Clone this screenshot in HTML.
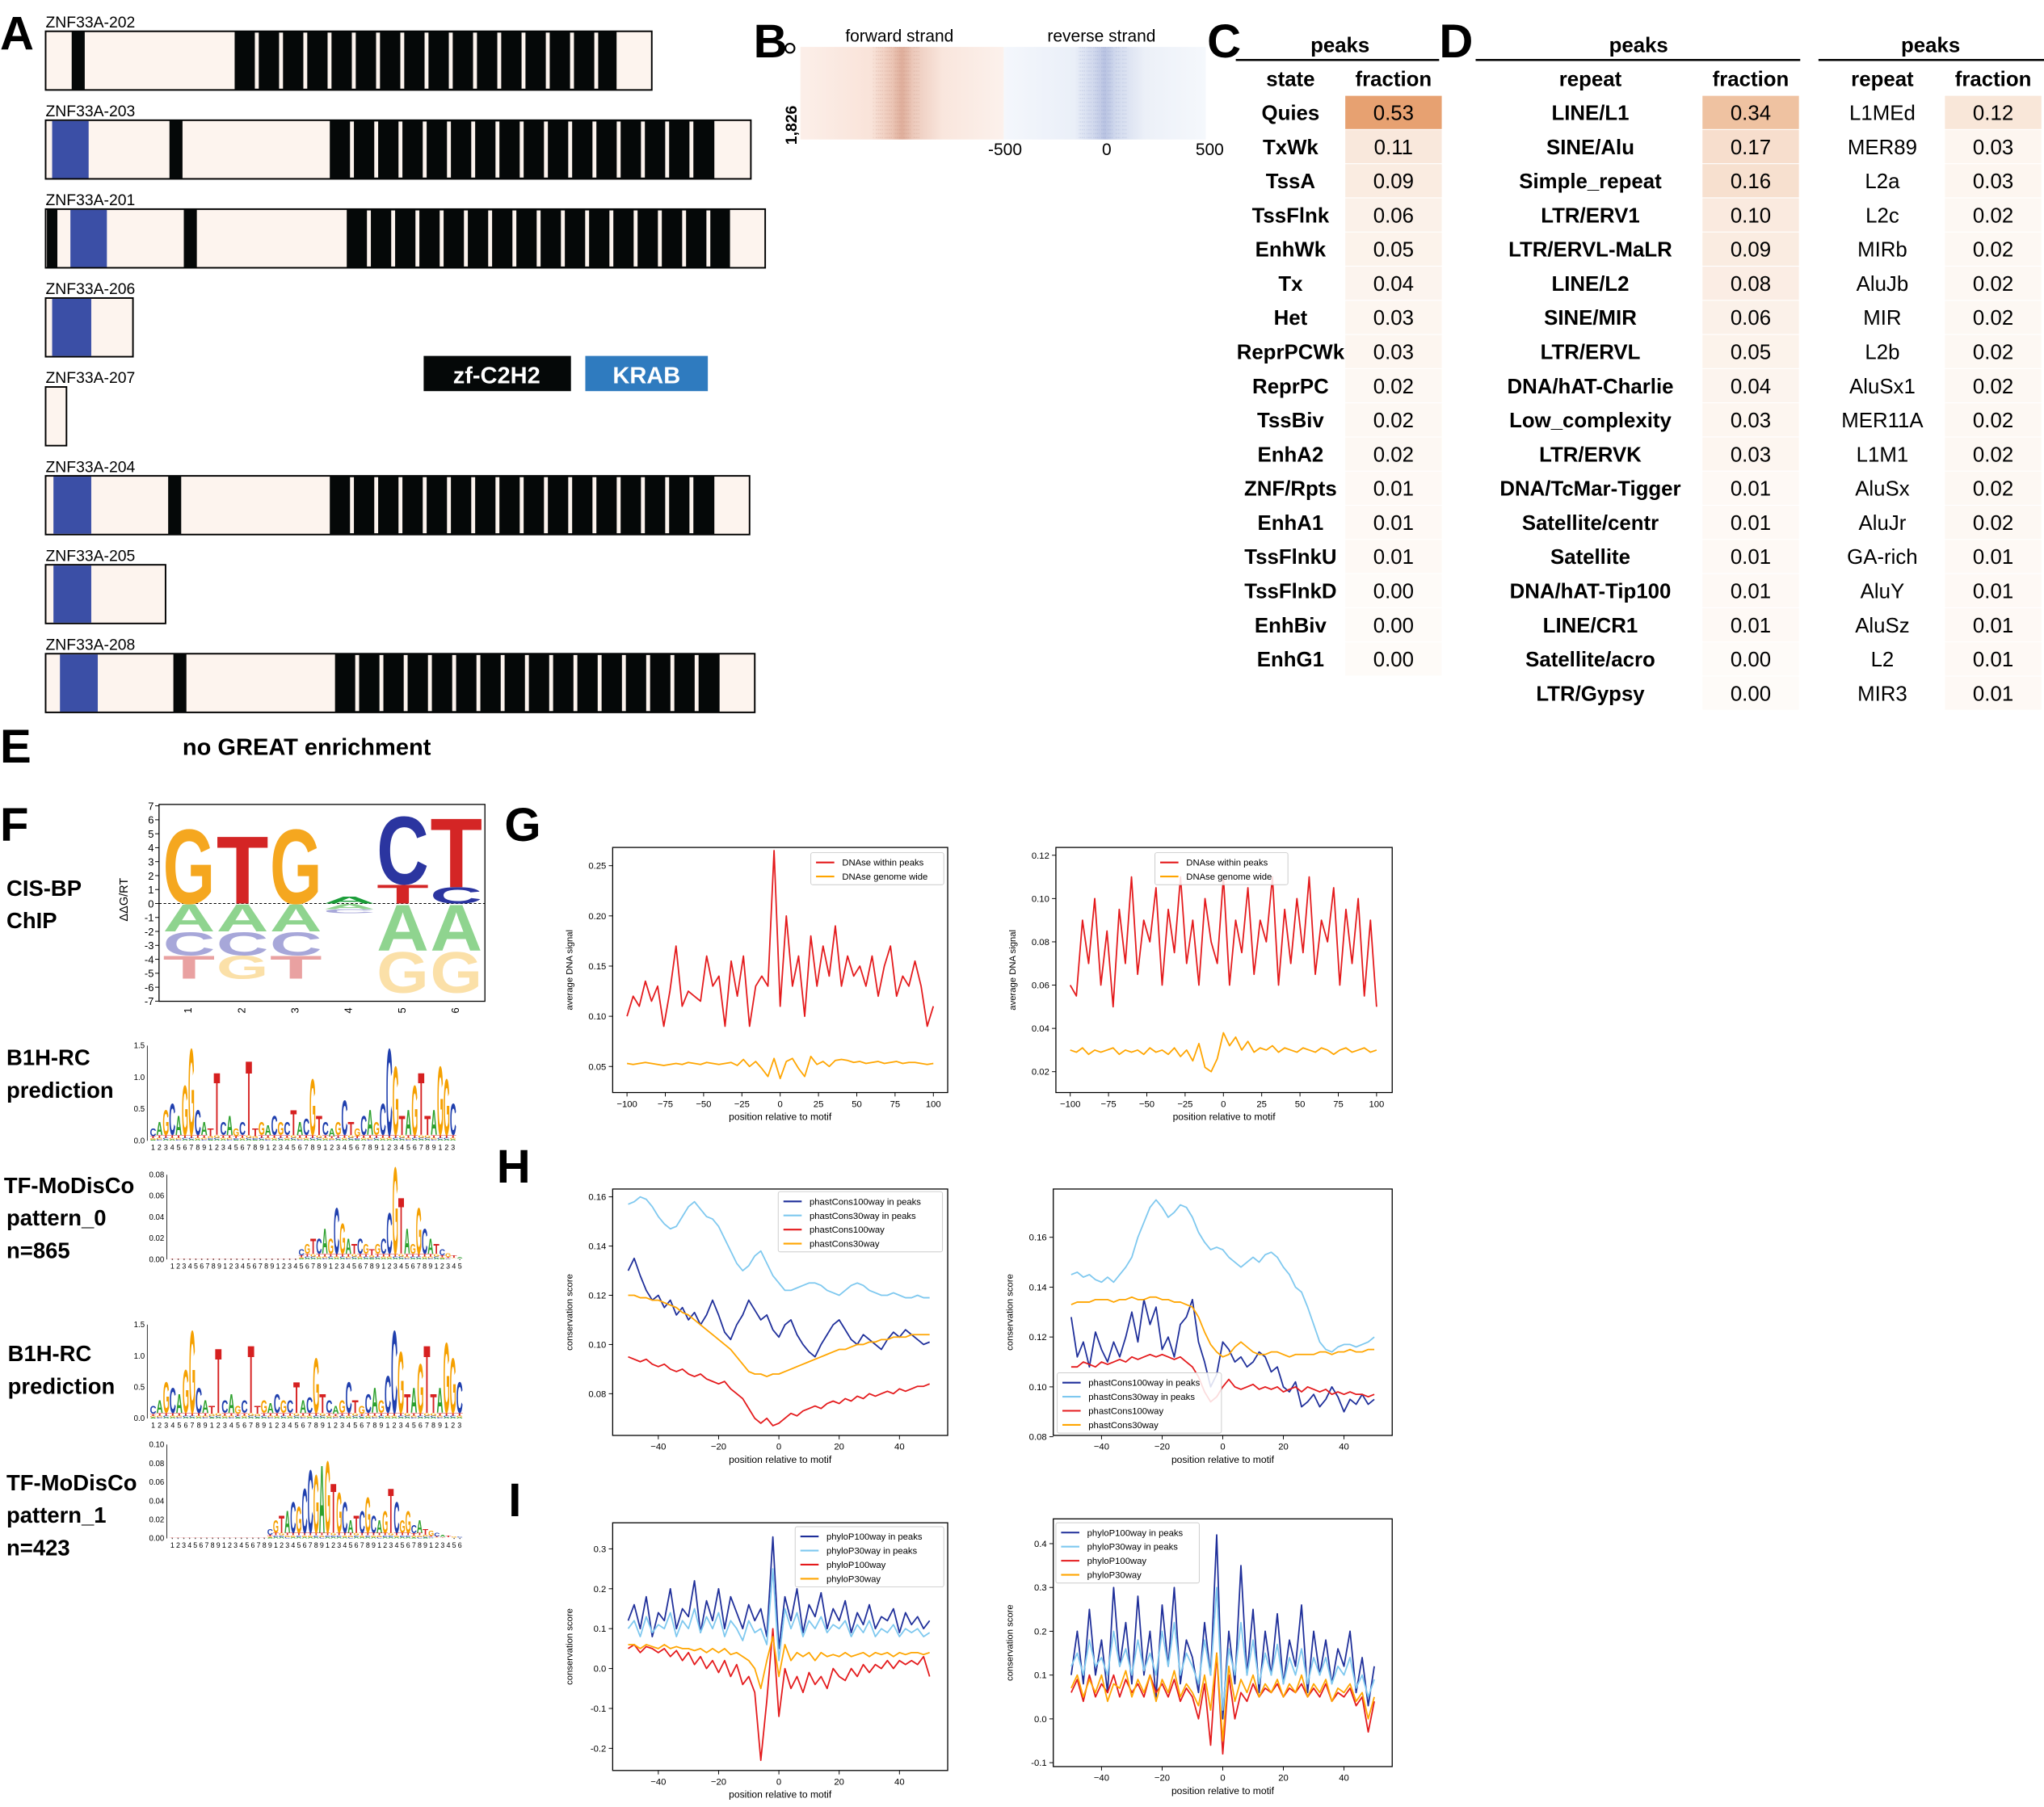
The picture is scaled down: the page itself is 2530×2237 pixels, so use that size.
<!DOCTYPE html>
<html><head><meta charset="utf-8"><style>
html,body{margin:0;padding:0;background:#fff;}
svg{display:block;font-family:"Liberation Sans",sans-serif;}
</style></head><body>
<svg id="fig" width="2530" height="2237" viewBox="0 0 1568 1386" preserveAspectRatio="none" xmlns="http://www.w3.org/2000/svg">
<defs>
<linearGradient id="fwdGrad" x1="0" x2="1" y1="0" y2="0">
<stop offset="0" stop-color="#fcefe9"/><stop offset="0.35" stop-color="#f9e3d9"/><stop offset="0.45" stop-color="#ecc6b6"/><stop offset="0.5" stop-color="#dfae9b"/><stop offset="0.56" stop-color="#edcbbd"/><stop offset="0.7" stop-color="#f9e6dd"/><stop offset="1" stop-color="#fcf1ec"/>
</linearGradient>
<linearGradient id="revGrad" x1="0" x2="1" y1="0" y2="0">
<stop offset="0" stop-color="#f4f7fc"/><stop offset="0.35" stop-color="#eaeff8"/><stop offset="0.45" stop-color="#cfd7ec"/><stop offset="0.5" stop-color="#b9c3e2"/><stop offset="0.56" stop-color="#d3dbee"/><stop offset="0.7" stop-color="#ecf0f8"/><stop offset="1" stop-color="#f5f8fc"/>
</linearGradient>
</defs>
</svg>
<script>
// ---------------- data ----------------
const transcriptNames=["ZNF33A-202","ZNF33A-203","ZNF33A-201","ZNF33A-206","ZNF33A-207","ZNF33A-204","ZNF33A-205","ZNF33A-208"];
const transcriptEnds=[500,576,587,102,51,575,127,579];
const krabStart=[null,40,54,40,null,41,41,46];
const krabEnd=[null,68,82,70,null,70,70,75];
const blackBars=[[55,65],[130,140],[141,151],null,null,[129,139],null,[133,143]];
const extraBlack=[null,null,[36,44],null,null,null,null,null];
const znfStart=[180,253,266,null,null,253,null,257];
const znfEnd=[473,548,560,null,null,548,null,552];

const stateNames=["Quies","TxWk","TssA","TssFlnk","EnhWk","Tx","Het","ReprPCWk","ReprPC","TssBiv","EnhA2","ZNF/Rpts","EnhA1","TssFlnkU","TssFlnkD","EnhBiv","EnhG1"];
const stateFrac=[0.53,0.11,0.09,0.06,0.05,0.04,0.03,0.03,0.02,0.02,0.02,0.01,0.01,0.01,0.00,0.00,0.00];
const repeatNames=["LINE/L1","SINE/Alu","Simple_repeat","LTR/ERV1","LTR/ERVL-MaLR","LINE/L2","SINE/MIR","LTR/ERVL","DNA/hAT-Charlie","Low_complexity","LTR/ERVK","DNA/TcMar-Tigger","Satellite/centr","Satellite","DNA/hAT-Tip100","LINE/CR1","Satellite/acro","LTR/Gypsy"];
const repeatFrac=[0.34,0.17,0.16,0.10,0.09,0.08,0.06,0.05,0.04,0.03,0.03,0.01,0.01,0.01,0.01,0.01,0.00,0.00];
const subNames=["L1MEd","MER89","L2a","L2c","MIRb","AluJb","MIR","L2b","AluSx1","MER11A","L1M1","AluSx","AluJr","GA-rich","AluY","AluSz","L2","MIR3"];
const subFrac=[0.12,0.03,0.03,0.02,0.02,0.02,0.02,0.02,0.02,0.02,0.02,0.02,0.02,0.01,0.01,0.01,0.01,0.01];

// G charts (x = -100..100 step 4)
const gX=[-100,-96,-92,-88,-84,-80,-76,-72,-68,-64,-60,-56,-52,-48,-44,-40,-36,-32,-28,-24,-20,-16,-12,-8,-4,0,4,8,12,16,20,24,28,32,36,40,44,48,52,56,60,64,68,72,76,80,84,88,92,96,100];
const g1Peaks=[0.10,0.12,0.11,0.135,0.115,0.13,0.09,0.125,0.17,0.11,0.125,0.12,0.115,0.16,0.13,0.14,0.09,0.155,0.12,0.16,0.09,0.13,0.14,0.13,0.265,0.11,0.20,0.13,0.16,0.10,0.18,0.13,0.17,0.14,0.19,0.13,0.16,0.14,0.15,0.13,0.16,0.12,0.15,0.17,0.12,0.14,0.13,0.155,0.13,0.09,0.11];
const g1Genome=[0.053,0.052,0.053,0.054,0.053,0.052,0.051,0.052,0.053,0.052,0.054,0.053,0.052,0.054,0.053,0.052,0.053,0.054,0.051,0.057,0.05,0.055,0.048,0.04,0.058,0.038,0.055,0.058,0.048,0.04,0.06,0.052,0.055,0.05,0.056,0.057,0.056,0.054,0.055,0.053,0.054,0.055,0.053,0.054,0.055,0.053,0.054,0.054,0.053,0.052,0.053];
const g2Peaks=[0.06,0.055,0.09,0.07,0.10,0.06,0.085,0.05,0.095,0.07,0.11,0.065,0.09,0.08,0.105,0.06,0.095,0.075,0.11,0.07,0.09,0.06,0.10,0.08,0.07,0.11,0.06,0.09,0.075,0.105,0.065,0.09,0.08,0.11,0.06,0.095,0.07,0.10,0.075,0.11,0.065,0.09,0.08,0.105,0.06,0.095,0.07,0.10,0.055,0.09,0.05];
const g2Genome=[0.03,0.029,0.031,0.028,0.03,0.029,0.03,0.031,0.028,0.03,0.029,0.03,0.028,0.031,0.029,0.03,0.028,0.031,0.027,0.03,0.025,0.033,0.022,0.02,0.026,0.038,0.032,0.036,0.03,0.034,0.029,0.031,0.03,0.032,0.029,0.031,0.03,0.029,0.031,0.03,0.029,0.031,0.03,0.028,0.03,0.031,0.029,0.03,0.031,0.029,0.03];

// H / I charts (x = -50..50 step 2)
const hX=[-50,-48,-46,-44,-42,-40,-38,-36,-34,-32,-30,-28,-26,-24,-22,-20,-18,-16,-14,-12,-10,-8,-6,-4,-2,0,2,4,6,8,10,12,14,16,18,20,22,24,26,28,30,32,34,36,38,40,42,44,46,48,50];
const h1Pc100Peaks=[0.13,0.135,0.128,0.122,0.118,0.12,0.115,0.118,0.112,0.115,0.11,0.113,0.108,0.112,0.118,0.112,0.105,0.102,0.108,0.112,0.118,0.114,0.11,0.112,0.106,0.103,0.108,0.11,0.104,0.1,0.097,0.095,0.1,0.104,0.108,0.11,0.106,0.102,0.1,0.104,0.102,0.1,0.098,0.102,0.105,0.103,0.106,0.104,0.102,0.1,0.101];
const h1Pc30Peaks=[0.157,0.158,0.16,0.159,0.156,0.152,0.149,0.147,0.148,0.152,0.156,0.158,0.155,0.152,0.151,0.148,0.143,0.138,0.133,0.13,0.132,0.136,0.138,0.133,0.128,0.125,0.122,0.122,0.123,0.124,0.125,0.125,0.124,0.122,0.121,0.12,0.122,0.124,0.125,0.124,0.122,0.121,0.12,0.12,0.121,0.12,0.119,0.119,0.12,0.119,0.119];
const h1Pc100=[0.095,0.094,0.093,0.094,0.092,0.091,0.092,0.09,0.089,0.09,0.088,0.087,0.088,0.086,0.085,0.084,0.085,0.082,0.08,0.078,0.074,0.07,0.068,0.07,0.067,0.068,0.07,0.072,0.071,0.073,0.074,0.075,0.074,0.076,0.077,0.076,0.078,0.077,0.079,0.078,0.08,0.079,0.08,0.081,0.08,0.082,0.081,0.082,0.083,0.083,0.084];
const h1Pc30=[0.12,0.12,0.119,0.119,0.118,0.118,0.117,0.116,0.115,0.113,0.112,0.11,0.108,0.106,0.104,0.102,0.1,0.098,0.095,0.092,0.089,0.088,0.088,0.087,0.088,0.088,0.089,0.09,0.091,0.092,0.093,0.094,0.095,0.096,0.097,0.098,0.098,0.099,0.1,0.1,0.101,0.101,0.102,0.102,0.103,0.103,0.103,0.104,0.104,0.104,0.104];
const h2Pc100Peaks=[0.128,0.112,0.118,0.108,0.122,0.115,0.11,0.118,0.112,0.12,0.13,0.118,0.135,0.125,0.132,0.115,0.12,0.112,0.125,0.128,0.135,0.118,0.11,0.1,0.105,0.118,0.115,0.11,0.112,0.108,0.11,0.114,0.112,0.106,0.108,0.1,0.098,0.102,0.092,0.094,0.097,0.092,0.095,0.1,0.096,0.09,0.095,0.093,0.097,0.093,0.095];
const h2Pc30Peaks=[0.145,0.146,0.144,0.145,0.143,0.142,0.144,0.142,0.145,0.148,0.152,0.16,0.166,0.172,0.175,0.172,0.168,0.17,0.173,0.172,0.168,0.162,0.158,0.155,0.156,0.155,0.152,0.15,0.148,0.15,0.152,0.15,0.153,0.154,0.152,0.148,0.145,0.14,0.138,0.132,0.125,0.118,0.115,0.114,0.116,0.117,0.117,0.116,0.117,0.118,0.12];
const h2Pc100=[0.108,0.108,0.11,0.109,0.108,0.11,0.109,0.11,0.111,0.11,0.112,0.111,0.112,0.113,0.112,0.113,0.112,0.111,0.112,0.11,0.108,0.104,0.098,0.094,0.096,0.1,0.103,0.1,0.099,0.1,0.101,0.099,0.1,0.099,0.1,0.098,0.099,0.1,0.098,0.1,0.099,0.098,0.099,0.097,0.098,0.097,0.098,0.097,0.097,0.096,0.097];
const h2Pc30=[0.133,0.134,0.134,0.134,0.135,0.135,0.135,0.134,0.135,0.135,0.136,0.135,0.135,0.136,0.136,0.135,0.135,0.134,0.134,0.133,0.132,0.128,0.122,0.117,0.114,0.112,0.113,0.116,0.118,0.116,0.114,0.113,0.113,0.114,0.114,0.113,0.112,0.113,0.113,0.113,0.113,0.114,0.114,0.113,0.114,0.114,0.115,0.114,0.114,0.115,0.115];
const i1P100Peaks=[0.12,0.16,0.1,0.18,0.08,0.14,0.12,0.2,0.1,0.15,0.13,0.22,0.09,0.17,0.12,0.2,0.1,0.18,0.14,0.1,0.16,0.12,0.15,0.08,0.33,0.05,0.18,0.12,0.2,0.09,0.16,0.13,0.19,0.1,0.15,0.12,0.17,0.09,0.14,0.11,0.16,0.1,0.13,0.12,0.15,0.09,0.14,0.11,0.13,0.1,0.12];
const i1P30Peaks=[0.1,0.12,0.08,0.13,0.09,0.11,0.1,0.14,0.08,0.12,0.1,0.15,0.09,0.13,0.1,0.14,0.08,0.12,0.1,0.07,0.12,0.09,0.1,0.06,0.25,0.02,0.15,0.1,0.14,0.08,0.12,0.1,0.13,0.09,0.11,0.1,0.12,0.08,0.11,0.09,0.12,0.08,0.1,0.09,0.11,0.08,0.1,0.09,0.1,0.08,0.09];
const i1P100=[0.05,0.06,0.04,0.055,0.05,0.04,0.05,0.03,0.045,0.02,0.04,0.01,0.03,0.0,0.02,-0.01,0.02,-0.02,0.01,-0.04,-0.02,-0.06,-0.23,-0.08,0.1,-0.12,0.0,-0.05,-0.02,-0.06,-0.01,-0.04,-0.02,-0.05,0.0,-0.02,-0.03,0.0,-0.02,0.01,-0.01,0.01,0.0,0.02,0.0,0.02,0.01,0.02,0.01,0.03,-0.02];
const i1P30=[0.06,0.06,0.05,0.06,0.055,0.05,0.06,0.05,0.055,0.05,0.05,0.045,0.05,0.04,0.05,0.04,0.05,0.035,0.04,0.03,0.02,0.0,-0.05,0.02,0.08,-0.02,0.06,0.02,0.04,0.03,0.04,0.02,0.04,0.03,0.035,0.03,0.04,0.03,0.035,0.04,0.03,0.04,0.035,0.04,0.03,0.04,0.035,0.04,0.04,0.035,0.04];
const i2P100Peaks=[0.1,0.2,0.08,0.25,0.1,0.18,0.06,0.3,0.12,0.22,0.08,0.28,0.1,0.2,0.05,0.26,0.12,0.3,0.08,0.18,0.14,0.06,0.22,0.1,0.42,0.0,0.2,0.08,0.35,0.1,0.25,0.06,0.2,0.1,0.24,0.08,0.18,0.12,0.26,0.06,0.2,0.1,0.18,0.08,0.16,0.12,0.2,0.06,0.14,0.03,0.12];
const i2P30Peaks=[0.12,0.15,0.1,0.18,0.12,0.14,0.1,0.2,0.12,0.16,0.1,0.18,0.11,0.15,0.1,0.2,0.12,0.22,0.1,0.15,0.12,0.08,0.18,0.1,0.3,0.02,0.16,0.1,0.22,0.1,0.18,0.08,0.15,0.1,0.17,0.08,0.14,0.1,0.16,0.08,0.14,0.1,0.14,0.08,0.12,0.1,0.14,0.07,0.1,0.05,0.09];
const i2P100=[0.06,0.09,0.04,0.1,0.05,0.08,0.06,0.1,0.05,0.09,0.06,0.08,0.05,0.1,0.06,0.08,0.05,0.09,0.04,0.07,0.05,0.0,0.08,-0.06,0.15,-0.08,0.1,0.0,0.06,0.04,0.08,0.05,0.07,0.06,0.08,0.05,0.07,0.06,0.08,0.05,0.07,0.05,0.08,0.04,0.06,0.05,0.07,0.03,0.05,-0.03,0.04];
const i2P30=[0.07,0.1,0.05,0.09,0.06,0.1,0.04,0.08,0.07,0.11,0.05,0.09,0.06,0.1,0.04,0.09,0.06,0.11,0.05,0.08,0.06,0.03,0.1,0.02,0.15,-0.05,0.12,0.04,0.09,0.06,0.1,0.05,0.08,0.06,0.09,0.05,0.08,0.06,0.1,0.05,0.08,0.06,0.09,0.04,0.07,0.06,0.08,0.04,0.06,0.0,0.05];

// motif logos
const b1hHeights=[0.2,0.3,0.5,0.6,0.4,0.9,1.5,0.5,0.3,0.2,1.1,0.3,0.4,0.2,0.3,1.3,0.2,0.3,0.25,0.4,0.3,0.3,0.5,0.3,0.35,1.0,0.4,0.3,0.2,0.3,0.65,0.3,0.2,0.4,0.5,0.3,0.6,1.5,1.2,0.4,0.5,0.9,1.1,0.4,0.5,1.2,1.0,0.6];
const b1hTop="CAGCAGGCATTCAGCTTGACGCTACGTCAGCTGCAGCCGTAGTTAGGC";
const b1h2Heights=[0.2,0.3,0.6,0.5,0.4,0.8,1.45,0.5,0.3,0.2,1.15,0.3,0.4,0.2,0.3,1.2,0.2,0.3,0.25,0.4,0.3,0.3,0.6,0.3,0.35,1.0,0.4,0.3,0.2,0.3,0.6,0.3,0.2,0.4,0.5,0.3,0.7,1.45,1.1,0.4,0.5,0.9,1.2,0.4,0.5,1.25,1.0,0.6];
const mod0Heights=[0.001,0.001,0.001,0.001,0.001,0.001,0.001,0.001,0.001,0.001,0.001,0.001,0.001,0.001,0.001,0.001,0.001,0.001,0.001,0.001,0.001,0.001,0.01,0.015,0.02,0.02,0.03,0.02,0.05,0.035,0.02,0.015,0.02,0.015,0.01,0.015,0.02,0.045,0.09,0.06,0.03,0.015,0.05,0.03,0.02,0.015,0.01,0.006,0.004,0.002];
const mod0Top="TTTTTTTTTTTTTTTTTTTTTTCGTCAGCGATCGTGCCGTAGGCATCGTA";
const mod1Heights=[0.001,0.001,0.001,0.001,0.001,0.001,0.001,0.001,0.001,0.001,0.001,0.001,0.001,0.001,0.001,0.001,0.001,0.01,0.02,0.025,0.03,0.04,0.035,0.055,0.075,0.07,0.08,0.085,0.06,0.05,0.04,0.02,0.025,0.03,0.045,0.025,0.02,0.03,0.055,0.04,0.02,0.03,0.015,0.02,0.01,0.008,0.006,0.004,0.003,0.002,0.002];
const mod1Top="TTTTTTTTTTTTTTTTTCGTACGCCGAGTGCATCGCAGTCGGCATGCATGC";

// ---------------- helpers ----------------
const NS="http://www.w3.org/2000/svg";
const svg=document.getElementById('fig');
function mk(tag,attrs,parent,name,inter){
  const el=document.createElementNS(NS,tag);
  for(const k in attrs) el.setAttribute(k,attrs[k]);
  
  
  (parent||svg).appendChild(el);
  return el;
}
function txt(str,x,y,size,opts,parent,name){
  opts=opts||{};
  const a={x:x,y:y,'font-size':size,fill:opts.fill||'#000'};
  if(opts.bold) a['font-weight']='bold';
  if(opts.anchor) a['text-anchor']=opts.anchor;
  if(opts.transform) a.transform=opts.transform;
  const t=mk('text',a,parent,name||'label');
  t.textContent=str;
  return t;
}
const LCOL={A:'#2ca02c',C:'#1f3fae',G:'#f5a000',T:'#d62020'};
function letter(ch,x,yb,w,h,color,parent,op){
  if(h<0.4) return;
  const t=mk('text',{x:x,y:yb,'font-size':(h/0.72).toFixed(2),'font-weight':'bold',fill:color,textLength:w,lengthAdjust:'spacingAndGlyphs','fill-opacity':op==null?1:op},parent,'logo-letter-'+ch);
  t.textContent=ch;
}

// ---------------- Panel A ----------------
const gA=mk('g',{},svg,'panel-a-transcripts');
txt('A',0,38,36,{bold:true},gA,'panel-label-a');
for(let i=0;i<transcriptNames.length;i++){
  const top=24+i*68.2, h=45;
  const g=mk('g',{},gA,'transcript-'+transcriptNames[i]);
  txt(transcriptNames[i],35,top-3,12,{},g,'transcript-name');
  mk('rect',{x:35,y:top,width:transcriptEnds[i]-35,height:h,fill:'#fdf4ee',stroke:'#000','stroke-width':1.2},g,'transcript-body');
  if(krabStart[i]!=null) mk('rect',{x:krabStart[i],y:top+0.6,width:krabEnd[i]-krabStart[i],height:h-1.2,fill:'#3b4fa6'},g,'krab-domain');
  if(blackBars[i]) mk('rect',{x:blackBars[i][0],y:top,width:blackBars[i][1]-blackBars[i][0],height:h,fill:'#050808'},g,'zf-domain-single');
  if(extraBlack[i]) mk('rect',{x:extraBlack[i][0],y:top,width:extraBlack[i][1]-extraBlack[i][0],height:h,fill:'#050808'},g,'zf-domain-single');
  if(znfStart[i]!=null){
    mk('rect',{x:znfStart[i],y:top,width:znfEnd[i]-znfStart[i],height:h,fill:'#050808'},g,'zf-array');
    for(let x=znfStart[i]+15.5;x<znfEnd[i]-6;x+=18.6){
      mk('rect',{x:x,y:top+1,width:3,height:h-2,fill:'#fdf4ee'},g,'zf-gap');
    }
  }
}
mk('rect',{x:325,y:273,width:113,height:27,fill:'#050808'},gA,'legend-zf-c2h2');
txt('zf-C2H2',381,294,18,{bold:true,fill:'#fff',anchor:'middle'},gA,'legend-zf-c2h2-text');
mk('rect',{x:449,y:273,width:94,height:27,fill:'#2f7bbf'},gA,'legend-krab');
txt('KRAB',496,294,18,{bold:true,fill:'#fff',anchor:'middle'},gA,'legend-krab-text');

// ---------------- Panel B ----------------
const gB=mk('g',{},svg,'panel-b-heatmap');
txt('B',578,44,36,{bold:true},gB,'panel-label-b');
mk('circle',{cx:606,cy:37,r:3.5,fill:'none',stroke:'#000','stroke-width':1.3},gB,'heatmap-marker');
mk('rect',{x:614,y:36,width:156,height:71,fill:'url(#fwdGrad)'},gB,'heatmap-forward');
mk('rect',{x:770,y:36,width:155,height:71,fill:'url(#revGrad)'},gB,'heatmap-reverse');
for(let k=0;k<30;k++){
  const xf=670+((k*7)%36), xr=828+((k*11)%38);
  mk('line',{x1:xf,x2:xf,y1:36,y2:107,stroke:'#a0614e','stroke-width':0.4,'stroke-opacity':0.18,'stroke-dasharray':'1,2'},gB,'heatmap-stripe');
  mk('line',{x1:xr,x2:xr,y1:36,y2:107,stroke:'#5468ab','stroke-width':0.4,'stroke-opacity':0.18,'stroke-dasharray':'1,2'},gB,'heatmap-stripe');
}
txt('forward strand',690,32,13,{anchor:'middle'},gB,'title-forward-strand');
txt('reverse strand',845,32,13,{anchor:'middle'},gB,'title-reverse-strand');
txt('1,826',611,96,12,{bold:true,anchor:'middle',transform:'rotate(-90 611 96)'},gB,'heatmap-rowcount');
txt('-500',771,119,13,{anchor:'middle'},gB,'tick-minus500');
txt('0',849,119,13,{anchor:'middle'},gB,'tick-0');
txt('500',928,119,13,{anchor:'middle'},gB,'tick-500');

// ---------------- Tables C/D ----------------
function fracColor(v){
  const t=Math.min(1,v/0.55);
  const a=[254,251,248], b=[230,158,108];
  return 'rgb('+a.map((c,i)=>Math.round(c+(b[i]-c)*t)).join(',')+')';
}
function table(g,names,fracs,lineX1,lineX2,peaksX,nameX,fracX,cellX,nameBold,headName){
  txt('peaks',peaksX,40,16,{bold:true,anchor:'middle'},g,'header-peaks');
  mk('line',{x1:lineX1,x2:lineX2,y1:46,y2:46,stroke:'#000','stroke-width':1.5},g,'header-rule');
  txt(headName,nameX,66,16,{bold:true,anchor:'middle'},g,'header-name');
  txt('fraction',fracX,66,16,{bold:true,anchor:'middle'},g,'header-fraction');
  for(let i=0;i<names.length;i++){
    const cy=86+i*26.2;
    mk('rect',{x:cellX,y:cy-12.5,width:74,height:25.5,fill:fracColor(fracs[i])},g,'fraction-cell');
    txt(names[i],nameX,cy+6,16,{bold:nameBold,anchor:'middle'},g,'row-name');
    txt(fracs[i].toFixed(2),fracX,cy+6,16,{anchor:'middle'},g,'row-fraction');
  }
}
const gC=mk('g',{},svg,'panel-c-chromatin-table');
txt('C',926,44,36,{bold:true},gC,'panel-label-c');
table(gC,stateNames,stateFrac,948,1104,1028,990,1069,1032,true,'state');
const gD=mk('g',{},svg,'panel-d-repeat-table');
txt('D',1104,44,36,{bold:true},gD,'panel-label-d');
table(gD,repeatNames,repeatFrac,1132,1381,1257,1220,1343,1306,true,'repeat');
const gD2=mk('g',{},svg,'panel-d-subfamily-table');
table(gD2,subNames,subFrac,1395,1568,1481,1444,1529,1492,false,'repeat');

// ---------------- Panel E ----------------
txt('E',0,585,36,{bold:true},svg,'panel-label-e');
txt('no GREAT enrichment',140,579,18,{bold:true},svg,'great-enrichment-note');

// ---------------- Panel F ----------------
const gF=mk('g',{},svg,'panel-f-motifs');
txt('F',0,645,36,{bold:true},gF,'panel-label-f');
txt('CIS-BP',5,687,17,{bold:true},gF,'label-cisbp');
txt('ChIP',5,712,17,{bold:true},gF,'label-chip');
const z0=693, u=10.7;
mk('rect',{x:122,y:617,width:250,height:151,fill:'none',stroke:'#000','stroke-width':0.8},gF,'cisbp-logo-frame');
for(let v=7;v>=-7;v--){
  const y=z0-v*u;
  mk('line',{x1:119,x2:122,y1:y,y2:y,stroke:'#000','stroke-width':0.6},gF,'cisbp-ytick');
  txt(String(v),118,y+3,8,{anchor:'end'},gF,'cisbp-ytick-label');
}
txt('ΔΔG/RT',98,690,9,{anchor:'middle',transform:'rotate(-90 98 690)'},gF,'cisbp-ylabel');
mk('line',{x1:122,x2:372,y1:z0,y2:z0,stroke:'#000','stroke-width':0.6,'stroke-dasharray':'2,1.5'},gF,'cisbp-zero-line');
const cisCols=[[['G',0,5.5]],[['T',0,5]],[['G',0,5.5]],[['A',0,0.5]],[['T',0,1.4],['C',1.4,6.4]],[['C',0,1.2],['T',1.2,6.3]]];
const cisNeg=[[['A',0,2],['C',2,3.7],['T',3.7,5.4]],[['A',0,2],['C',2,3.7],['G',3.7,5.4]],[['A',0,2],['C',2,3.7],['T',3.7,5.4]],[['A',0,0.4],['C',0.4,0.7]],[['A',0,3.4],['G',3.4,6.4]],[['A',0,3.4],['G',3.4,6.4]]];
const faded={A:'#8fd48f',C:'#a7a7d9',G:'#fbe0a8',T:'#e9a1a1'};
const mainCol={A:'#1c9e3a',C:'#2b35a0',G:'#f5a71f',T:'#d42525'};
for(let c=0;c<6;c++){
  const x=125+41*c;
  cisCols[c].forEach(s=>letter(s[0],x,z0-s[1]*u,40,(s[2]-s[1])*u,mainCol[s[0]],gF));
  cisNeg[c].forEach(s=>letter(s[0],x,z0+s[2]*u,40,(s[2]-s[1])*u,faded[s[0]],gF));
  txt(String(c+1),x+22,775,8,{anchor:'middle',transform:'rotate(-90 '+(x+22)+' 775)'},gF,'cisbp-position-label');
}
function smallLogo(name,x0,x1,yBase,yTop,vmax,heights,tops,ticks,tickFmt){
  const g=mk('g',{},gF,name);
  const n=heights.length, w=(x1-x0)/n, sc=(yBase-yTop)/vmax;
  mk('line',{x1:x0-2,x2:x0-2,y1:yTop,y2:yBase,stroke:'#000','stroke-width':0.5},g,'logo-yaxis');
  ticks.forEach(v=>{
    const y=yBase-v*sc;
    txt(tickFmt(v),x0-4,y+2,6,{anchor:'end'},g,'logo-ytick-label');
  });
  for(let i=0;i<n;i++){
    const x=x0+i*w, h=heights[i]*sc;
    const top=tops[i%tops.length];
    let y=yBase;
    const rest=['A','C','G','T'].filter(c=>c!==top);
    const small=Math.min(h*0.35,4);
    rest.forEach((c,k)=>{const hh=small/(3-k+1);letter(c,x,y,w,hh,LCOL[c],g);y-=hh;});
    letter(top,x,y,w,Math.max(0,h-(yBase-y)),LCOL[top],g);
    if(heights[i]<=0.002) mk('circle',{cx:x+w/2,cy:yBase,r:0.5,fill:'#555'},g,'logo-dot');
  }
  for(let i=0;i<n;i++){
    const lbl=String((i%9)+1);
    txt(lbl,x0+i*w+w/2,yBase+7,5.5,{anchor:'middle'},g,'logo-position-label');
  }
}
txt('B1H-RC',5,817,17,{bold:true},gF,'label-b1h-1');
txt('prediction',5,842,17,{bold:true},gF,'label-prediction-1');
smallLogo('b1h-logo-1',115,350,875,802,1.5,b1hHeights,b1hTop,[0,0.5,1.0,1.5],v=>v.toFixed(1));
txt('TF-MoDisCo',3,915,17,{bold:true},gF,'label-modisco-0');
txt('pattern_0',5,940,17,{bold:true},gF,'label-pattern-0');
txt('n=865',5,965,17,{bold:true},gF,'label-n865');
smallLogo('modisco-logo-0',130,355,966,901,0.08,mod0Heights,mod0Top,[0,0.02,0.04,0.06,0.08],v=>v.toFixed(2));
txt('B1H-RC',6,1044,17,{bold:true},gF,'label-b1h-2');
txt('prediction',6,1069,17,{bold:true},gF,'label-prediction-2');
smallLogo('b1h-logo-2',115,355,1088,1016,1.5,b1h2Heights,b1hTop,[0,0.5,1.0,1.5],v=>v.toFixed(1));
txt('TF-MoDisCo',5,1143,17,{bold:true},gF,'label-modisco-1');
txt('pattern_1',5,1168,17,{bold:true},gF,'label-pattern-1');
txt('n=423',5,1193,17,{bold:true},gF,'label-n423');
smallLogo('modisco-logo-1',130,355,1180,1108,0.10,mod1Heights,mod1Top,[0,0.02,0.04,0.06,0.08,0.10],v=>v.toFixed(2));

// ---------------- line charts ----------------
function lineChart(cfg){
  const g=mk('g',{},svg,cfg.name);
  const [bx0,by0,bx1,by1]=cfg.box;
  const xs=v=>cfg.xpx[0]+(v-cfg.xd[0])/(cfg.xd[1]-cfg.xd[0])*(cfg.xpx[1]-cfg.xpx[0]);
  const ys=v=>cfg.ypx[0]+(v-cfg.yd[0])/(cfg.yd[1]-cfg.yd[0])*(cfg.ypx[1]-cfg.ypx[0]);
  cfg.series.forEach(s=>{
    const pts=cfg.x.map((xv,i)=>xs(xv).toFixed(2)+','+ys(s.data[i]).toFixed(2)).join(' ');
    mk('polyline',{points:pts,fill:'none',stroke:s.color,'stroke-width':1.1,'stroke-linejoin':'round'},g,'series-'+s.key);
  });
  mk('rect',{x:bx0,y:by0,width:bx1-bx0,height:by1-by0,fill:'none',stroke:'#000','stroke-width':0.8},g,'plot-frame');
  cfg.yticks.forEach(v=>{
    const y=ys(v);
    mk('line',{x1:bx0-3,x2:bx0,y1:y,y2:y,stroke:'#000','stroke-width':0.6},g,'y-tick');
    txt(cfg.yfmt(v),bx0-5,y+2.5,7,{anchor:'end'},g,'y-tick-label');
  });
  cfg.xticks.forEach(v=>{
    const x=xs(v);
    mk('line',{x1:x,x2:x,y1:by1,y2:by1+3,stroke:'#000','stroke-width':0.6},g,'x-tick');
    txt(v<0?'\u2212'+Math.abs(v):String(v),x,by1+11,7,{anchor:'middle'},g,'x-tick-label');
  });
  txt('position relative to motif',(bx0+bx1)/2,by1+21,7.5,{anchor:'middle'},g,'x-axis-title');
  const yc=(by0+by1)/2, yl=bx0-31;
  txt(cfg.ylabel,yl,yc,7,{anchor:'middle',transform:'rotate(-90 '+yl+' '+yc+')'},g,'y-axis-title');
  const L=cfg.legend;
  const lg=mk('g',{},g,'legend');
  mk('rect',{x:L.x,y:L.y,width:L.w,height:cfg.series.length*10.8+3,fill:'#fff','fill-opacity':0.85,stroke:'#ccc','stroke-width':0.6,rx:1.5},lg,'legend-box');
  cfg.series.forEach((s,i)=>{
    const y=L.y+7.5+i*10.8;
    mk('line',{x1:L.x+4,x2:L.x+18,y1:y,y2:y,stroke:s.color,'stroke-width':1.3},lg,'legend-swatch');
    txt(s.label,L.x+24,y+2.5,7,{},lg,'legend-entry');
  });
}
const RED='#e41a1c', ORG='#ffa500', NAVY='#1f2f9a', LBLUE='#7ec8ef';
txt('G',387,645,36,{bold:true},svg,'panel-label-g');
txt('H',381,907,36,{bold:true},svg,'panel-label-h');
txt('I',390,1163,36,{bold:true},svg,'panel-label-i');

lineChart({name:'chart-g1-dnase',box:[470,650,727,838],x:gX,xd:[-100,100],xpx:[481,716],yd:[0.05,0.25],ypx:[818,664],
  yticks:[0.05,0.10,0.15,0.20,0.25],yfmt:v=>v.toFixed(2),xticks:[-100,-75,-50,-25,0,25,50,75,100],ylabel:'average DNA signal',
  legend:{x:622,y:654,w:102},
  series:[{key:'dnase-peaks',data:g1Peaks,color:RED,label:'DNAse within peaks'},{key:'dnase-genome',data:g1Genome,color:ORG,label:'DNAse genome wide'}]});
lineChart({name:'chart-g2-dnase',box:[810,650,1068,838],x:gX,xd:[-100,100],xpx:[821,1056],yd:[0.02,0.12],ypx:[822,656],
  yticks:[0.02,0.04,0.06,0.08,0.10,0.12],yfmt:v=>v.toFixed(2),xticks:[-100,-75,-50,-25,0,25,50,75,100],ylabel:'average DNA signal',
  legend:{x:886,y:654,w:102},
  series:[{key:'dnase-peaks',data:g2Peaks,color:RED,label:'DNAse within peaks'},{key:'dnase-genome',data:g2Genome,color:ORG,label:'DNAse genome wide'}]});
lineChart({name:'chart-h1-phastcons',box:[470,912,727,1101],x:hX,xd:[-40,40],xpx:[505,690],yd:[0.08,0.16],ypx:[1069,918],
  yticks:[0.08,0.10,0.12,0.14,0.16],yfmt:v=>v.toFixed(2),xticks:[-40,-20,0,20,40],ylabel:'conservation score',
  legend:{x:597,y:914,w:126},
  series:[{key:'pc100-peaks',data:h1Pc100Peaks,color:NAVY,label:'phastCons100way in peaks'},{key:'pc30-peaks',data:h1Pc30Peaks,color:LBLUE,label:'phastCons30way in peaks'},{key:'pc100',data:h1Pc100,color:RED,label:'phastCons100way'},{key:'pc30',data:h1Pc30,color:ORG,label:'phastCons30way'}]});
lineChart({name:'chart-h2-phastcons',box:[808,912,1068,1101],x:hX,xd:[-40,40],xpx:[845,1031],yd:[0.08,0.16],ypx:[1102,949],
  yticks:[0.08,0.10,0.12,0.14,0.16],yfmt:v=>v.toFixed(2),xticks:[-40,-20,0,20,40],ylabel:'conservation score',
  legend:{x:811,y:1053,w:126},
  series:[{key:'pc100-peaks',data:h2Pc100Peaks,color:NAVY,label:'phastCons100way in peaks'},{key:'pc30-peaks',data:h2Pc30Peaks,color:LBLUE,label:'phastCons30way in peaks'},{key:'pc100',data:h2Pc100,color:RED,label:'phastCons100way'},{key:'pc30',data:h2Pc30,color:ORG,label:'phastCons30way'}]});
lineChart({name:'chart-i1-phylop',box:[470,1168,727,1358],x:hX,xd:[-40,40],xpx:[505,690],yd:[-0.2,0.3],ypx:[1341,1188],
  yticks:[-0.2,-0.1,0.0,0.1,0.2,0.3],yfmt:v=>v.toFixed(1),xticks:[-40,-20,0,20,40],ylabel:'conservation score',
  legend:{x:610,y:1171,w:114},
  series:[{key:'p100-peaks',data:i1P100Peaks,color:NAVY,label:'phyloP100way in peaks'},{key:'p30-peaks',data:i1P30Peaks,color:LBLUE,label:'phyloP30way in peaks'},{key:'p100',data:i1P100,color:RED,label:'phyloP100way'},{key:'p30',data:i1P30,color:ORG,label:'phyloP30way'}]});
lineChart({name:'chart-i2-phylop',box:[808,1165,1068,1355],x:hX,xd:[-40,40],xpx:[845,1031],yd:[-0.1,0.4],ypx:[1352,1184],
  yticks:[-0.1,0.0,0.1,0.2,0.3,0.4],yfmt:v=>v.toFixed(1),xticks:[-40,-20,0,20,40],ylabel:'conservation score',
  legend:{x:810,y:1168,w:110},
  series:[{key:'p100-peaks',data:i2P100Peaks,color:NAVY,label:'phyloP100way in peaks'},{key:'p30-peaks',data:i2P30Peaks,color:LBLUE,label:'phyloP30way in peaks'},{key:'p100',data:i2P100,color:RED,label:'phyloP100way'},{key:'p30',data:i2P30,color:ORG,label:'phyloP30way'}]});
</script>
</body></html>
